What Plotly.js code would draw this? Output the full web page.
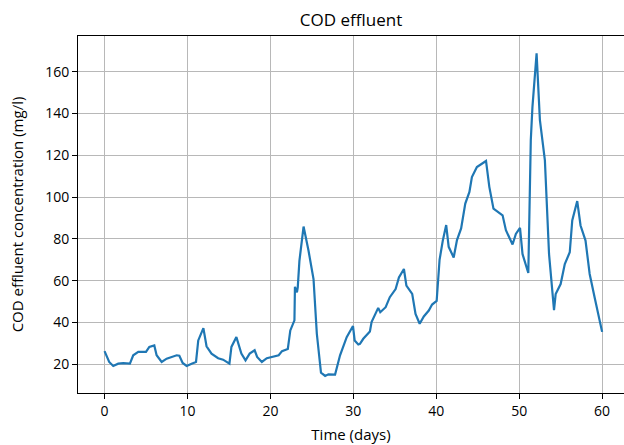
<!DOCTYPE html>
<html>
<head>
<meta charset="utf-8">
<script src="https://cdn.plot.ly/plotly-3.0.1.min.js"></script>
<style>html,body{margin:0;padding:0;background:#fff;overflow:hidden}#chart{width:624px;height:445px}</style>
</head>
<body>
<div id="chart"></div>
<script>
const days = [0,0.24,0.56,1.05,1.65,2.26,3.06,3.46,4.07,5.0,5.4,6.0,6.28,6.89,7.49,8.7,9.02,9.42,9.9,10.5,
  11.03,11.3,11.92,12.3,12.9,13.7,14.3,15.06,15.3,15.9,16.5,17.0,17.5,18.1,18.4,18.97,19.57,21.0,21.4,22.1,
  22.4,22.9,22.96,23.2,23.3,23.5,24.0,24.6,25.2,25.6,26.1,26.6,27.0,27.8,28.4,29.2,29.96,30.16,30.6,30.8,
  31.2,32.0,32.2,33.0,33.25,33.9,34.4,35.1,35.5,36.1,36.4,37.1,37.5,38.0,38.5,39.1,39.5,40.05,40.4,40.8,
  41.2,41.5,42.1,42.5,43.0,43.5,44.0,44.3,44.9,46.0,46.4,46.9,47.5,48.0,48.4,49.0,49.2,49.6,50.1,50.4,
  51.1,51.4,51.6,52.1,52.5,53.1,53.6,54.2,54.4,55.0,55.5,56.1,56.4,57.0,57.4,58.0,58.5,59.1,60.0];
const codEffluent = [26.3,24.3,21.1,19.2,20.3,20.5,20.3,24.3,25.9,25.9,28.3,29.0,24.3,21.1,22.7,24.3,24.1,20.6,19.2,20.3,
  21.1,31.4,37.3,28.6,25.1,22.9,22.2,20.3,28.3,33.0,25.1,21.9,25.1,26.7,23.5,21.1,22.9,24.3,26.3,27.3,
  36.2,41.0,57.1,54.4,56.8,69.5,85.9,74.3,60.8,34.6,16.0,14.4,15.2,15.1,24.3,33.0,38.3,31.4,29.5,29.8,
  32.2,35.7,40.2,47.0,44.9,47.3,52.1,56.0,61.6,65.6,57.6,53.7,44.1,39.4,42.9,45.7,48.6,50.3,70.0,79.4,
  86.6,76.2,71.1,79.4,85.0,96.9,102.5,109.6,114.4,117.3,104.9,94.5,92.9,91.3,84.2,79.2,77.3,82.4,85.3,72.8,
  63.7,127.2,143.2,168.8,136.8,117.6,72.8,45.9,53.6,58.4,68.0,73.6,88.8,98.1,86.4,79.2,63.2,52.0,35.5];
const xTicks = [0,10,20,30,40,50,60];
const yTicks = [20,40,60,80,100,120,140,160];
const chartTitle = "COD effluent";
const xLabel = "Time (days)";
const yLabel = "COD effluent concentration (mg/l)";

const fontFam = "Open Sans, sans-serif";
Plotly.newPlot("chart", [{
  x: days, y: codEffluent, type: "scatter", mode: "lines",
  line: {color: "#1f77b4", width: 2.2}
}], {
  width: 624, height: 445,
  margin: {l: 78, r: 0, t: 36, b: 52},
  paper_bgcolor: "#fff", plot_bgcolor: "#fff",
  showlegend: false,
  font: {family: fontFam, color: "#000", size: 14},
  title: {text: chartTitle, font: {size: 17, family: fontFam, color: "#000"}, x: 0.5625, xanchor: "center", yref: "container", y: 0.955, yanchor: "middle"},
  xaxis: {
    range: [-3.2, 62.64], tickvals: xTicks, ticktext: xTicks.map(String),
    showgrid: true, gridcolor: "#b8b8b8", gridwidth: 1, zeroline: false,
    showline: true, linecolor: "#000", linewidth: 1, mirror: true,
    ticks: "outside", ticklen: 5, tickcolor: "#000", tickfont: {size: 14},
    title: {text: xLabel, font: {size: 15}, standoff: 10}, automargin: false
  },
  yaxis: {
    range: [6.25, 177.1], tickvals: yTicks, ticktext: yTicks.map(String),
    showgrid: true, gridcolor: "#b8b8b8", gridwidth: 1, zeroline: false,
    showline: true, linecolor: "#000", linewidth: 1, mirror: false,
    ticks: "outside", ticklen: 5, tickcolor: "#000", tickfont: {size: 14},
    title: {text: yLabel, font: {size: 15}, standoff: 17}, automargin: false
  }
}, {staticPlot: true, displayModeBar: false});
</script>
</body>
</html>
